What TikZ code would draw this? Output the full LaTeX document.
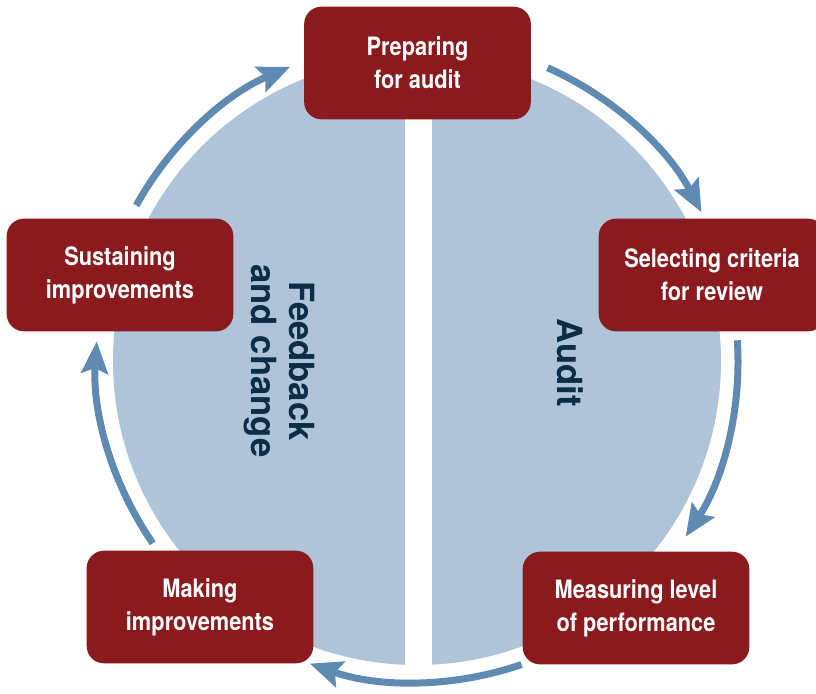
\documentclass[tikz,border=0pt]{standalone}
\usepackage{fontspec}
\setmainfont{TeX Gyre Heros}
\newfontfamily\stagefont[FakeStretch=0.86]{TeX Gyre Heros}
\usetikzlibrary{arrows.meta,calc}
\definecolor{stagered}{HTML}{8A1A1D}
\definecolor{discblue}{HTML}{AFC4D9}
\definecolor{flowblue}{HTML}{5F8AB2}
\definecolor{labelnavy}{HTML}{0B2D45}

\begin{document}
\begin{tikzpicture}[x=0.75pt, y=-0.75pt]
\useasboundingbox (0,0) rectangle (816,693);

\coordinate (ctr) at (417,361);
\fill[discblue] (ctr) circle[radius=304];
\fill[white] (404.5,100) rectangle (431.5,690);

\tikzset{flow/.style={draw=flowblue, line width=5.25pt, -{Stealth[length=24pt,width=20pt,inset=4pt]}}}
\coordinate (a1) at ($(ctr)+(-66:321)$);
\coordinate (a2) at ($(ctr)+(-3.7:321)$);
\coordinate (a3) at ($(ctr)+(71:321)$);
\coordinate (a4) at ($(ctr)+(145.4:321)$);
\coordinate (a5) at ($(ctr)+(209:321)$);
\draw[flow] (a1) arc[start angle=-66, end angle=-27.6, radius=321];
\draw[flow] (a2) arc[start angle=-3.7, end angle=33.2, radius=321];
\draw[flow] (a3) arc[start angle=71, end angle=109.5, radius=321];
\draw[flow] (a4) arc[start angle=145.4, end angle=183.5, radius=321];
\draw[flow] (a5) arc[start angle=209, end angle=247, radius=318];

\tikzset{stage/.style={fill=stagered, rounded corners=13pt, minimum width=170pt, minimum height=84.5pt, text=white, align=center, inner sep=0pt, font=\stagefont\bfseries\fontsize{19}{25}\selectfont}}
\node[stage] (prep) at (417.5,63) {Preparing\\for audit};
\node[stage] (select) at (712,275) {Selecting criteria\\for review};
\node[stage] (measure) at (636,608) {Measuring level\\of performance};
\node[stage] (making) at (200,607) {Making\\improvements};
\node[stage] (sustain) at (120,275) {Sustaining\\improvements};

\tikzset{phase/.style={text=labelnavy, rotate=-90, align=center, inner sep=0pt, font=\bfseries\fontsize{26}{28.5}\selectfont}}
\node[phase] (feedback) at (279,361) {Feedback\\and change};
\node[phase] (audit) at (570,363) {Audit};
\end{tikzpicture}
\end{document}
